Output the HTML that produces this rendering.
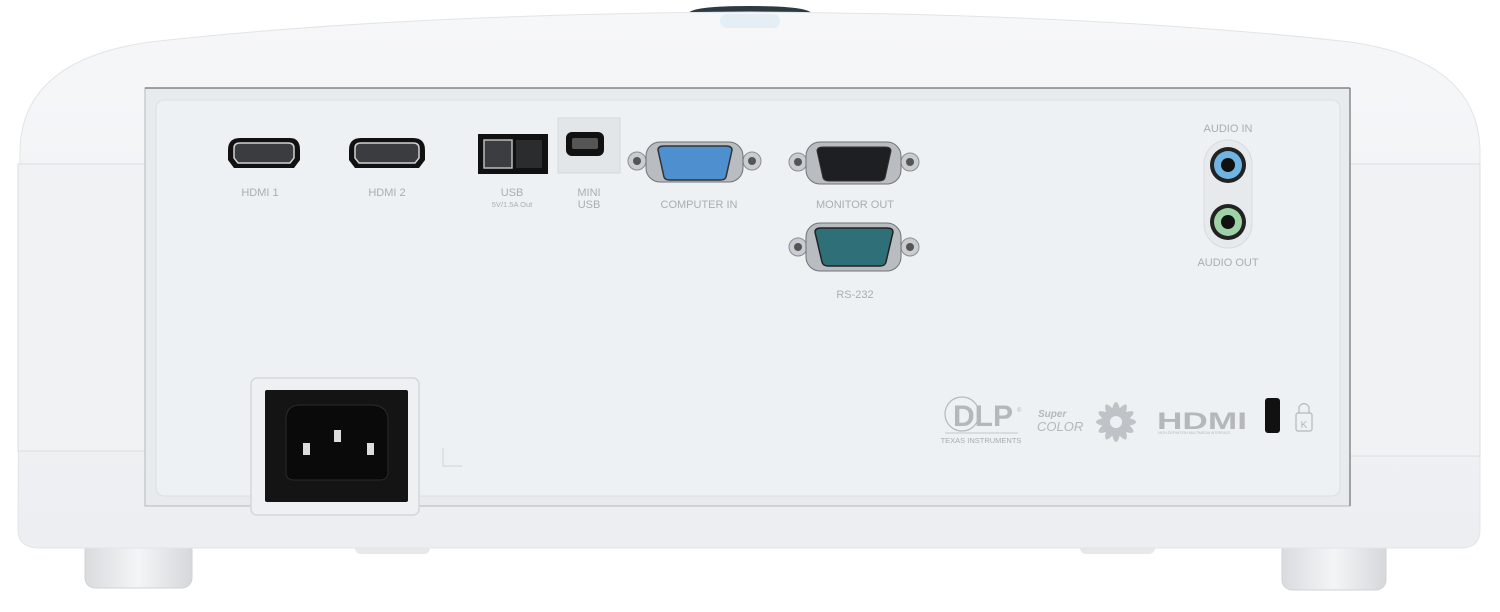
<!DOCTYPE html>
<html><head><meta charset="utf-8"><style>
html,body{margin:0;padding:0;background:#fff;}
svg{display:block}
text{font-family:"Liberation Sans",sans-serif;fill:#a9adb2}
</style></head><body>
<svg width="1500" height="612" viewBox="0 0 1500 612" xmlns="http://www.w3.org/2000/svg">
<defs>
<linearGradient id="sh" x1="0" y1="0" x2="0" y2="1"><stop offset="0" stop-color="#f6f7f9"/><stop offset="1" stop-color="#eceef1"/></linearGradient>
<linearGradient id="ft" x1="0" y1="0" x2="1" y2="0"><stop offset="0" stop-color="#d9dbde"/><stop offset=".5" stop-color="#f4f5f6"/><stop offset="1" stop-color="#d5d7da"/></linearGradient>
</defs>
<rect width="1500" height="612" fill="#fff"/>
<rect x="85" y="540" width="107" height="48" rx="10" fill="url(#ft)" stroke="#d0d2d5"/>
<rect x="1282" y="540" width="104" height="50" rx="10" fill="url(#ft)" stroke="#d0d2d5"/>
<rect x="355" y="540" width="75" height="14" rx="6" fill="#e6e8ea"/>
<rect x="1080" y="540" width="75" height="14" rx="6" fill="#e6e8ea"/>
<path d="M688 14 Q690 6 750 6 Q810 6 812 14 Z" fill="#2d3a42"/>
<path d="M20 150 Q22 60 150 42 Q400 14 750 12 Q1100 14 1350 42 Q1478 60 1480 150 L1480 530 Q1480 548 1460 548 L40 548 Q18 548 18 530 Z" fill="url(#sh)" stroke="#e2e4e7"/>
<rect x="720" y="14" width="60" height="14" rx="7" fill="#e4eef4"/>
<rect x="18" y="164" width="128" height="287" fill="#f1f2f4" stroke="#dadde0"/>
<rect x="1350" y="164" width="130" height="292" fill="#f1f2f4" stroke="#dadde0"/>
<rect x="145" y="88" width="1205" height="418" fill="#e8ebee" stroke="#b4b8bd" stroke-width="1"/>
<line x1="145" y1="88" x2="1350" y2="88" stroke="#6b7076" stroke-width="1.2"/>
<line x1="1350" y1="88" x2="1350" y2="506" stroke="#6b7076" stroke-width="1.2"/>
<rect x="156" y="100" width="1184" height="396" rx="8" fill="#eef1f4" stroke="#dcdfe3"/>
<g>
<path d="M228 150 Q228 138 240 138 L290 138 Q300 138 300 150 L300 160 L294 168 L234 168 L228 160 Z" fill="#111"/>
<path d="M234 148 Q234 143 240 143 L288 143 Q294 143 294 148 L294 158 L290 163 L238 163 L234 158 Z" fill="#3a3c3f" stroke="#cfd2d5" stroke-width="1.5"/>
<path d="M349 150 Q349 138 361 138 L413 138 Q425 138 425 150 L425 160 L419 168 L355 168 L349 160 Z" fill="#111"/>
<path d="M355 148 Q355 143 361 143 L413 143 Q419 143 419 148 L419 158 L415 163 L359 163 L355 158 Z" fill="#3a3c3f" stroke="#cfd2d5" stroke-width="1.5"/>
</g>
<text x="260" y="196" font-size="11" text-anchor="middle">HDMI 1</text>
<text x="387" y="196" font-size="11" text-anchor="middle">HDMI 2</text>
<rect x="478" y="134" width="70" height="40" fill="#111"/>
<rect x="484" y="140" width="28" height="28" fill="#3b3d40" stroke="#bbb" stroke-width="1.5"/>
<rect x="516" y="140" width="26" height="28" fill="#2a2c2e"/>
<text x="512" y="196" font-size="11" text-anchor="middle">USB</text>
<text x="512" y="207" font-size="7.5" text-anchor="middle">5V/1.5A Out</text>
<rect x="558" y="118" width="62" height="55" fill="#e3e6e9" stroke="#d6d9dc"/>
<rect x="566" y="132" width="38" height="24" rx="6" fill="#111"/>
<rect x="572" y="138" width="26" height="11" rx="2" fill="#555"/>
<text x="589" y="196" font-size="11" text-anchor="middle">MINI</text>
<text x="589" y="208" font-size="11" text-anchor="middle">USB</text>
<g>
<circle cx="637" cy="161" r="9" fill="#c9ccd0" stroke="#8a8e93"/><circle cx="637" cy="161" r="4" fill="#555"/>
<circle cx="752" cy="161" r="9" fill="#c9ccd0" stroke="#8a8e93"/><circle cx="752" cy="161" r="4" fill="#555"/>
<rect x="646" y="142" width="97" height="40" rx="14" fill="#b9bcc0" stroke="#6f7378"/>
<path d="M658 150 Q658 146 664 146 L726 146 Q732 146 732 150 L726 177 Q725 180 720 180 L670 180 Q665 180 664 177 Z" fill="#4d8fcf" stroke="#333" stroke-width="1.5"/>
</g>
<text x="699" y="208" font-size="11" text-anchor="middle">COMPUTER  IN</text>
<g>
<circle cx="798" cy="162" r="9" fill="#c9ccd0" stroke="#8a8e93"/><circle cx="798" cy="162" r="4" fill="#555"/>
<circle cx="910" cy="162" r="9" fill="#c9ccd0" stroke="#8a8e93"/><circle cx="910" cy="162" r="4" fill="#555"/>
<rect x="806" y="142" width="95" height="42" rx="14" fill="#b9bcc0" stroke="#6f7378"/>
<path d="M817 151 Q817 147 823 147 L885 147 Q891 147 891 151 L885 178 Q884 181 879 181 L829 181 Q824 181 823 178 Z" fill="#1d1f22" stroke="#333"/>
</g>
<text x="855" y="208" font-size="11" text-anchor="middle">MONITOR OUT</text>
<g>
<circle cx="798" cy="247" r="9" fill="#c9ccd0" stroke="#8a8e93"/><circle cx="798" cy="247" r="4" fill="#555"/>
<circle cx="910" cy="247" r="9" fill="#c9ccd0" stroke="#8a8e93"/><circle cx="910" cy="247" r="4" fill="#555"/>
<rect x="806" y="223" width="95" height="48" rx="14" fill="#b9bcc0" stroke="#6f7378"/>
<path d="M815 232 Q815 228 821 228 L887 228 Q893 228 893 232 L886 262 Q885 266 880 266 L828 266 Q823 266 822 262 Z" fill="#2f6f78" stroke="#222" stroke-width="1.5"/>
</g>
<text x="855" y="298" font-size="11" text-anchor="middle">RS-232</text>
<text x="1228" y="132" font-size="11" text-anchor="middle">AUDIO IN</text>
<rect x="1204" y="140" width="48" height="108" rx="24" fill="#e7eaed" stroke="#d8dbde"/>
<circle cx="1228" cy="165" r="18" fill="#222"/><circle cx="1228" cy="165" r="14" fill="#6fb4e3"/><circle cx="1228" cy="165" r="7" fill="#111"/>
<circle cx="1228" cy="222" r="18" fill="#222"/><circle cx="1228" cy="222" r="14" fill="#9fd1a7"/><circle cx="1228" cy="222" r="7" fill="#111"/>
<text x="1228" y="266" font-size="11" text-anchor="middle">AUDIO OUT</text>
<rect x="251" y="378" width="168" height="137" rx="6" fill="#eef0f3" stroke="#d4d7da" stroke-width="1.5"/>
<rect x="265" y="390" width="143" height="112" rx="2" fill="#141414"/>
<path d="M286 420 Q286 405 300 405 L370 405 Q388 405 388 420 L388 472 Q388 480 380 480 L294 480 Q286 480 286 472 Z" fill="#0a0a0a" stroke="#2a2a2a"/>
<rect x="303" y="443" width="7" height="12" fill="#ddd"/><rect x="334" y="430" width="7" height="12" fill="#ddd"/><rect x="367" y="443" width="7" height="12" fill="#ddd"/>
<path d="M443 448 L443 466 L462 466" stroke="#cfd2d5" fill="none"/>
<circle cx="962" cy="414" r="17" fill="none" stroke="#b4b7bb" stroke-width="1.2"/>
<text x="953" y="426" font-size="30" font-weight="bold" style="fill:#b4b7bb">DLP</text>
<text x="1017" y="412" font-size="6" style="fill:#b4b7bb">®</text>
<line x1="945" y1="433" x2="1018" y2="433" stroke="#c4c7ca"/>
<text x="981" y="443" font-size="7.5" text-anchor="middle" style="fill:#a8abb0">TEXAS INSTRUMENTS</text>
<text x="1038" y="417" font-size="10" font-style="italic" font-weight="bold" style="fill:#b4b7bb">Super</text>
<text x="1037" y="431" font-size="13" font-style="italic" style="fill:#b4b7bb">COLOR</text>
<g fill="#bfc2c6" transform="translate(1116,422)">
<ellipse rx="5" ry="20"/><ellipse rx="5" ry="20" transform="rotate(30)"/><ellipse rx="5" ry="20" transform="rotate(60)"/><ellipse rx="5" ry="20" transform="rotate(90)"/><ellipse rx="5" ry="20" transform="rotate(120)"/><ellipse rx="5" ry="20" transform="rotate(150)"/>
<circle r="6" fill="#eef1f4"/>
</g>
<text x="1157" y="429" font-size="24" font-weight="bold" style="fill:#b4b7bb" textLength="90" lengthAdjust="spacingAndGlyphs">HDMI</text>
<text x="1158" y="434" font-size="3.5" style="fill:#b4b7bb">HIGH-DEFINITION MULTIMEDIA INTERFACE</text>
<rect x="1265" y="398" width="15" height="35" rx="3" fill="#111"/>
<rect x="1296" y="413" width="16" height="18" rx="2" fill="none" stroke="#b4b7bb" stroke-width="1.2"/>
<path d="M1299 413 L1299 407 Q1304 400 1309 407 L1309 413" fill="none" stroke="#b4b7bb" stroke-width="1.2"/>
<text x="1304" y="428" font-size="10" text-anchor="middle" style="fill:#b4b7bb">K</text>
</svg>
</body></html>
